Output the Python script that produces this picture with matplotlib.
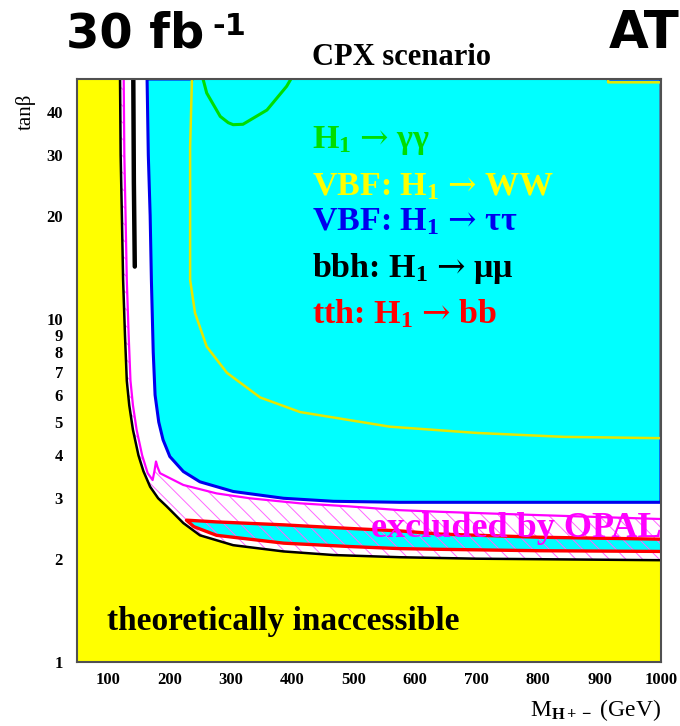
import matplotlib
matplotlib.use("Agg")
import matplotlib.pyplot as plt
from matplotlib.ticker import NullLocator

plt.rcParams['mathtext.fontset'] = 'custom'
plt.rcParams['mathtext.rm'] = 'Liberation Serif:bold'
plt.rcParams['mathtext.bf'] = 'Liberation Serif:bold'
plt.rcParams['mathtext.it'] = 'Liberation Serif:bold:italic'
plt.rcParams['mathtext.sf'] = 'DejaVu Serif'
plt.rcParams['hatch.linewidth'] = 0.7

# theoretically inaccessible boundary (black)
theo_m = [120, 121, 123, 125, 128, 131, 135, 141, 150, 158, 169, 182, 196, 223, 250, 304, 386, 467, 575, 700, 1000]
theo_tb = [50, 30, 20, 13, 9, 6.6, 5.6, 4.75, 4.0, 3.6, 3.24, 3.0, 2.84, 2.54, 2.34, 2.19, 2.10, 2.05, 2.02, 2.0, 1.98]

# OPAL exclusion (magenta)
opal_m = [126, 127, 129, 131, 134, 137, 141, 147, 156, 165, 173, 176, 178.5, 181, 185, 223, 277, 331, 413, 494, 575, 640, 800, 1000]
opal_tb = [50, 30, 20, 13, 9, 6.6, 5.6, 4.75, 4.0, 3.55, 3.39, 3.6, 3.84, 3.7, 3.55, 3.28, 3.10, 3.0, 2.90, 2.84, 2.77, 2.74, 2.68, 2.61]

# VBF: H1 -> tautau (blue, edge of cyan region)
tau_m = [164, 166, 169, 171, 174, 177, 183, 190, 201, 223, 250, 304, 386, 467, 575, 1000]
tau_tb = [50, 30, 20, 13, 8, 6, 5, 4.44, 3.97, 3.59, 3.35, 3.14, 3.0, 2.94, 2.92, 2.92]

# VBF: H1 -> WW (yellow)
ww_m = [237, 234, 234, 242, 261, 294, 348, 413, 559, 701, 842, 1000, 1000, 914, 914]
ww_tb = [50, 31.7, 13, 10.4, 8.3, 6.96, 5.9, 5.35, 4.85, 4.65, 4.53, 4.49, 48.9, 48.9, 50]

# H1 -> gamma gamma (green)
gg_m = [255, 261, 283, 296, 304, 320, 359, 391, 398]
gg_tb = [50, 45.5, 38.9, 37.3, 36.8, 36.9, 40.6, 47.6, 50]

# bbh: H1 -> mumu (black)
mumu_m = [141.6, 142.5, 144]
mumu_tb = [50, 25, 14.2]

# tth: H1 -> bb (red band)
bb_m = [1000, 800, 640, 575, 494, 386, 277, 228, 240, 277, 386, 494, 575, 640, 800, 1000]
bb_tb = [2.28, 2.31, 2.36, 2.41, 2.45, 2.51, 2.56, 2.59, 2.48, 2.34, 2.22, 2.17, 2.14, 2.13, 2.11, 2.10]

yticks = [1, 2, 3, 4, 5, 6, 7, 8, 9, 10, 20, 30, 40]
xticks = [100, 200, 300, 400, 500, 600, 700, 800, 900, 1000]

W, H = 680, 726
fig = plt.figure(figsize=(6.8, 7.26), dpi=100)
ax = fig.add_axes([77 / W, 1 - 662 / H, 584 / W, 583 / H])
ax.set_yscale('log')
ax.set_xlim(50, 1000)
ax.set_ylim(1, 50)

cyan = '#00ffff'
# cyan region
ax.fill(tau_m + [1000], tau_tb + [50], color=cyan, lw=0, zorder=1)
# yellow theoretically inaccessible
ax.fill([50] + theo_m + [1000, 50], [50] + theo_tb + [1, 1], color='#ffff00', lw=0, zorder=1)
# tth band
ax.fill(bb_m, bb_tb, color=cyan, lw=0, zorder=2)
ax.plot(bb_m, bb_tb, color='#ff0000', lw=2.4, zorder=4)
# OPAL hatched region
ax.fill(opal_m + theo_m[::-1], opal_tb + theo_tb[::-1], facecolor='none',
        edgecolor='#ff66ff', hatch='\\\\', lw=0, zorder=3)
ax.plot(opal_m, opal_tb, color='#ff00ff', lw=1.6, zorder=4)

ax.plot(theo_m, theo_tb, color='black', lw=1.8, zorder=5)
ax.plot([237] + tau_m + [1000, 914], [50] + tau_tb + [50, 50], color='#0000ee', lw=2.2, zorder=5)
ax.plot(ww_m, ww_tb, color='#e6e600', lw=1.8, zorder=5)
ax.plot(gg_m, gg_tb, color='#00dd00', lw=2.2, zorder=5)
ax.plot(mumu_m, mumu_tb, color='black', lw=3.2, solid_capstyle='round', zorder=5)

ax.yaxis.set_minor_locator(NullLocator())
ax.set_yticks(yticks)
ax.set_yticklabels([str(t) for t in yticks])
ax.set_xticks(xticks)
ax.set_xticklabels([str(t) for t in xticks])
ax.tick_params(length=0)
ax.tick_params(axis='y', pad=10)
ax.tick_params(axis='x', pad=7)
for lab in ax.get_xticklabels() + ax.get_yticklabels():
    lab.set_fontfamily('Liberation Serif')
    lab.set_fontweight('bold')
    lab.set_fontsize(12)
for sp in ax.spines.values():
    sp.set_color('#505050')
    sp.set_linewidth(1.5)
    sp.set_zorder(6)


def ftext(x, y, s, **kw):
    fig.text(x / W, 1 - y / H, s, **kw)


serif = dict(family='Liberation Serif', weight='bold')
ftext(66, 48, '30 fb', family='DejaVu Sans', weight='bold', fontsize=34.5)
ftext(212, 35, '-1', family='DejaVu Sans', weight='bold', fontsize=22)
ftext(609, 48, 'AT', family='DejaVu Sans', weight='bold', fontsize=37)
ftext(312, 65, 'CPX scenario', fontsize=22, **serif)
ftext(26, 112, 'tanβ', rotation=90, ha='center', va='center', family='Liberation Serif', fontsize=15)
ftext(661, 716, r'M$_{\mathrm{H+-}}$ (GeV)', ha='right', family='Liberation Serif', fontsize=17)

legend_texts = [r'H$_\mathbf{1}$ $\mathsf{→}$ γγ', r'VBF: H$_\mathbf{1}$ $\mathsf{→}$ WW',
                r'VBF: H$_\mathbf{1}$ $\mathsf{→}$ ττ', r'bbh: H$_\mathbf{1}$ $\mathsf{→}$ μμ',
                r'tth: H$_\mathbf{1}$ $\mathsf{→}$ bb']
legend_colors = ['#00dd00', '#ffff00', '#0000ee', 'black', '#ff0000']
legend_base = [148, 195, 230, 277, 323]
for s, c, b in zip(legend_texts, legend_colors, legend_base):
    ftext(312, b, s, color=c, fontsize=24.5, zorder=7, **serif)

ftext(371, 537, 'excluded by OPAL', color='#ff00ff', fontsize=26, zorder=7, **serif)
ftext(107, 630, 'theoretically inaccessible', color='black', fontsize=24, zorder=7, **serif)

fig.savefig('out.png', dpi=100)
